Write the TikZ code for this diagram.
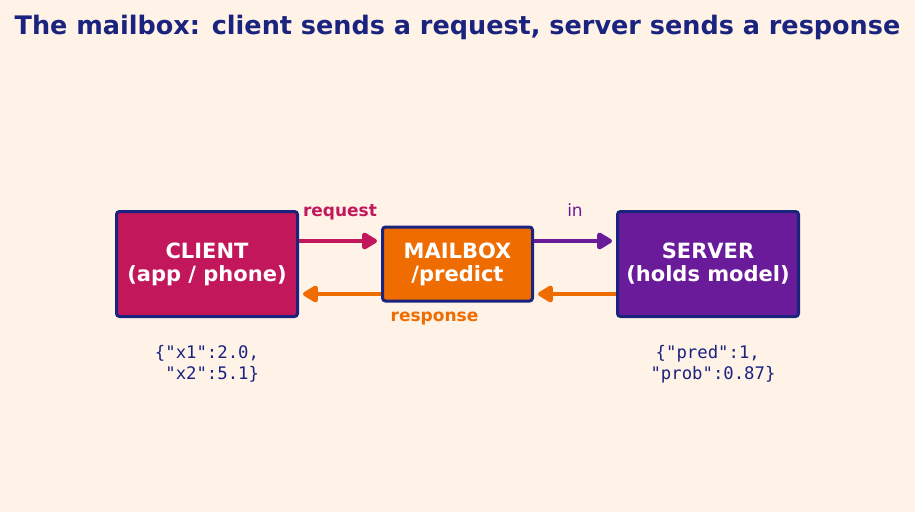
\documentclass[tikz,border=0pt]{standalone}
\usepackage{fontspec}
\setmainfont{DejaVu Sans}
\setmonofont{DejaVu Sans Mono}
\usetikzlibrary{arrows.meta}
\usetikzlibrary{positioning}
\definecolor{bgcream}{HTML}{FFF3E8}
\definecolor{navy}{HTML}{1A237E}
\definecolor{crimson}{HTML}{C2185B}
\definecolor{amber}{HTML}{EF6C00}
\definecolor{grape}{HTML}{6A1B9A}

\begin{document}
\begin{tikzpicture}[x=1pt,y=-1pt,
    box/.style={draw=navy,line width=3pt,rounded corners=3pt,text=white,
      font=\fontsize{21}{23}\selectfont\bfseries,align=center,inner sep=0pt},
    flow/.style={line width=4.5pt,-{Triangle[length=17pt,width=19pt,round]},shorten >=4pt},
    lbl/.style={font=\fontsize{17}{20}\selectfont,inner sep=0pt,
      text height=0.75em,text depth=0.25em},
    json/.style={font=\fontsize{17.3}{21}\selectfont\ttfamily,text=navy,align=center,inner sep=0pt}]
    % background and frame
    \fill[bgcream] (0,0) rectangle (915,512);
    \useasboundingbox (0,0) rectangle (915,512);
    % title
    \node[anchor=base,text=navy,font=\fontsize{25.5}{28}\selectfont\bfseries] (title) at (457.5,34)
      {The mailbox: client sends a request, server sends a response};
    % the three boxes
    \node[box,fill=crimson,minimum width=181pt,minimum height=105pt] (client)  at (207,264)   {CLIENT\\(app / phone)};
    \node[box,fill=amber,minimum width=150pt,minimum height=74pt]    (mailbox) at (457.5,264) {MAILBOX\\/predict};
    \node[box,fill=grape,minimum width=181pt,minimum height=105pt]   (server)  at (708,264)   {SERVER\\(holds model)};
    % way in
    \path[flow,color=crimson] ([yshift=23pt]client.east) edge node[lbl,above=20pt,font=\fontsize{17}{20}\selectfont\bfseries] {request} ([yshift=23pt]mailbox.west);
    \path[flow,color=grape]   ([yshift=23pt]mailbox.east) edge node[lbl,above=20pt] {in} ([yshift=23pt]server.west);
    % way back
    \path[flow,color=amber] ([yshift=-30pt]mailbox.west) edge ([yshift=-30pt]client.east)
                            ([yshift=-30pt]server.west)  edge ([yshift=-30pt]mailbox.east);
    \node[lbl,text=amber,font=\fontsize{17}{20}\selectfont\bfseries,below=11pt of mailbox.south,xshift=-23pt] (resp) {response};
    % payloads
    \node[json] (reqdata)  at (207,364) {\{"x1":2.0,\\\phantom{\{}"x2":5.1\}};
    \node[json] (respdata) at (713,364) {\{"pred":1,\phantom{x}\\"prob":0.87\}};
\end{tikzpicture}
\end{document}
